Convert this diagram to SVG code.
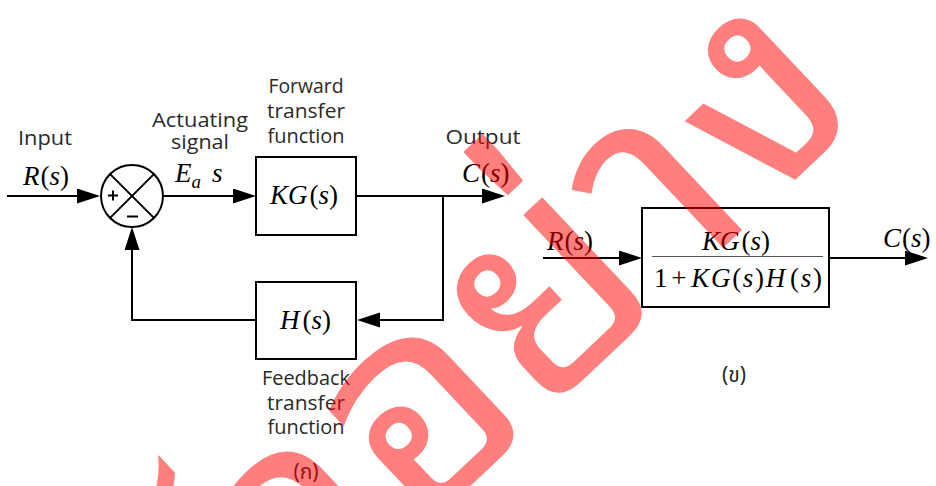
<svg xmlns="http://www.w3.org/2000/svg" width="936" height="486" viewBox="0 0 936 486">
<defs>
<marker id="arr" markerUnits="userSpaceOnUse" markerWidth="24" markerHeight="16" refX="18" refY="7.5" orient="auto">
<path d="M0,0 L23,7.5 L0,15 Z" fill="#000"/>
</marker>
<style>
.ln{fill:none;stroke:#000;stroke-width:2}
.box{fill:#fff;stroke:#000;stroke-width:2}
.lbl{font-family:"Open Sans","Noto Sans",sans-serif;font-size:20px;fill:#2a2a2a;text-anchor:middle}
.th{font-family:"Noto Sans Thai","Leelawadee UI","Open Sans","Noto Sans",sans-serif;font-size:21px;fill:#2a2a2a;text-anchor:middle}
.m{font-family:"Liberation Serif","Times New Roman",serif;font-size:27px;fill:#000}
.i{font-style:italic}
.wm{font-family:"Noto Sans Thai Looped","Noto Sans Thai",sans-serif;font-size:290px;fill:#ff0000;fill-opacity:0.5}
</style>
</defs>
<rect width="936" height="486" fill="#fff"/>

<g id="connectors">
<line class="ln" x1="7" y1="196" x2="95" y2="196" marker-end="url(#arr)"/>
<line class="ln" x1="163" y1="196" x2="251" y2="196" marker-end="url(#arr)"/>
<line class="ln" x1="356" y1="196" x2="500" y2="196" marker-end="url(#arr)"/>
<path class="ln" d="M443,196 V320 H362" marker-end="url(#arr)"/>
<path class="ln" d="M256,320 H132 V232" marker-end="url(#arr)"/>
<line class="ln" x1="543" y1="258" x2="637" y2="258" marker-end="url(#arr)"/>
<line class="ln" x1="829" y1="258" x2="923" y2="258" marker-end="url(#arr)"/>
</g>

<g id="sum">
<circle class="box" cx="132" cy="196" r="31"/>
<path class="ln" d="M110.1,174.1 L153.9,217.9 M153.9,174.1 L110.1,217.9"/>
<path class="ln" d="M108,195.5 H118 M113,190.5 V200.5"/>
<path class="ln" d="M127,216.5 H138"/>
</g>

<g id="input-label">
<text class="lbl" x="45" y="145" textLength="54" lengthAdjust="spacingAndGlyphs">Input</text>
<text class="m" x="23" y="185"><tspan class="i">R</tspan><tspan dx="1">(</tspan><tspan class="i">s</tspan><tspan>)</tspan></text>
</g>

<g id="actuating-label">
<text class="lbl" x="200" y="127" textLength="96" lengthAdjust="spacingAndGlyphs">Actuating</text>
<text class="lbl" x="200" y="149" textLength="58" lengthAdjust="spacingAndGlyphs">signal</text>
<text class="m" x="175" y="182"><tspan class="i">E</tspan><tspan class="i" font-size="19" dy="6">a</tspan><tspan class="i" dx="11" dy="-6">s</tspan></text>
</g>

<g id="forward">
<rect class="box" x="256" y="157" width="100" height="78"/>
<text class="lbl" x="306" y="93" textLength="75" lengthAdjust="spacingAndGlyphs">Forward</text>
<text class="lbl" x="306" y="118" textLength="78" lengthAdjust="spacingAndGlyphs">transfer</text>
<text class="lbl" x="306" y="143" textLength="77" lengthAdjust="spacingAndGlyphs">function</text>
<text class="m" x="270" y="204"><tspan class="i">KG</tspan><tspan dx="2">(</tspan><tspan class="i">s</tspan><tspan>)</tspan></text>
</g>

<g id="output-label">
<text class="lbl" x="483" y="144" textLength="75" lengthAdjust="spacingAndGlyphs">Output</text>
<text class="m" x="462" y="182"><tspan class="i">C</tspan><tspan dx="1">(</tspan><tspan class="i">s</tspan><tspan>)</tspan></text>
</g>

<g id="feedback">
<rect class="box" x="256" y="282" width="100" height="77"/>
<text class="m" x="280" y="329"><tspan class="i">H</tspan><tspan dx="3">(</tspan><tspan class="i">s</tspan><tspan>)</tspan></text>
<text class="lbl" x="306" y="385" textLength="88" lengthAdjust="spacingAndGlyphs">Feedback</text>
<text class="lbl" x="306" y="410" textLength="78" lengthAdjust="spacingAndGlyphs">transfer</text>
<text class="lbl" x="306" y="434" textLength="77" lengthAdjust="spacingAndGlyphs">function</text>
<text class="th" x="306" y="479">(ก)</text>
</g>

<g id="closed-loop">
<rect class="box" x="642" y="208" width="187" height="99"/>
<line x1="652" y1="256.5" x2="823" y2="256.5" stroke="#555" stroke-width="1.2"/>
<text class="m" x="702" y="250"><tspan class="i">KG</tspan><tspan dx="2">(</tspan><tspan class="i">s</tspan><tspan>)</tspan></text>
<text class="m" x="654" y="287" textLength="168" lengthAdjust="spacing"><tspan>1</tspan><tspan dx="2">+</tspan><tspan class="i" dx="3">KG</tspan><tspan>(</tspan><tspan class="i">s</tspan><tspan>)</tspan><tspan class="i">H</tspan><tspan dx="3">(</tspan><tspan class="i">s</tspan><tspan>)</tspan></text>
<text class="m" x="547" y="250"><tspan class="i">R</tspan><tspan dx="1">(</tspan><tspan class="i">s</tspan><tspan>)</tspan></text>
<text class="m" x="883" y="247"><tspan class="i">C</tspan><tspan dx="1">(</tspan><tspan class="i">s</tspan><tspan>)</tspan></text>
<text class="th" x="734" y="382">(ข)</text>
</g>

<g id="watermark">
<text class="wm" transform="translate(187,753) rotate(-43.3)">ตัวอย่าง</text>
</g>
</svg>
